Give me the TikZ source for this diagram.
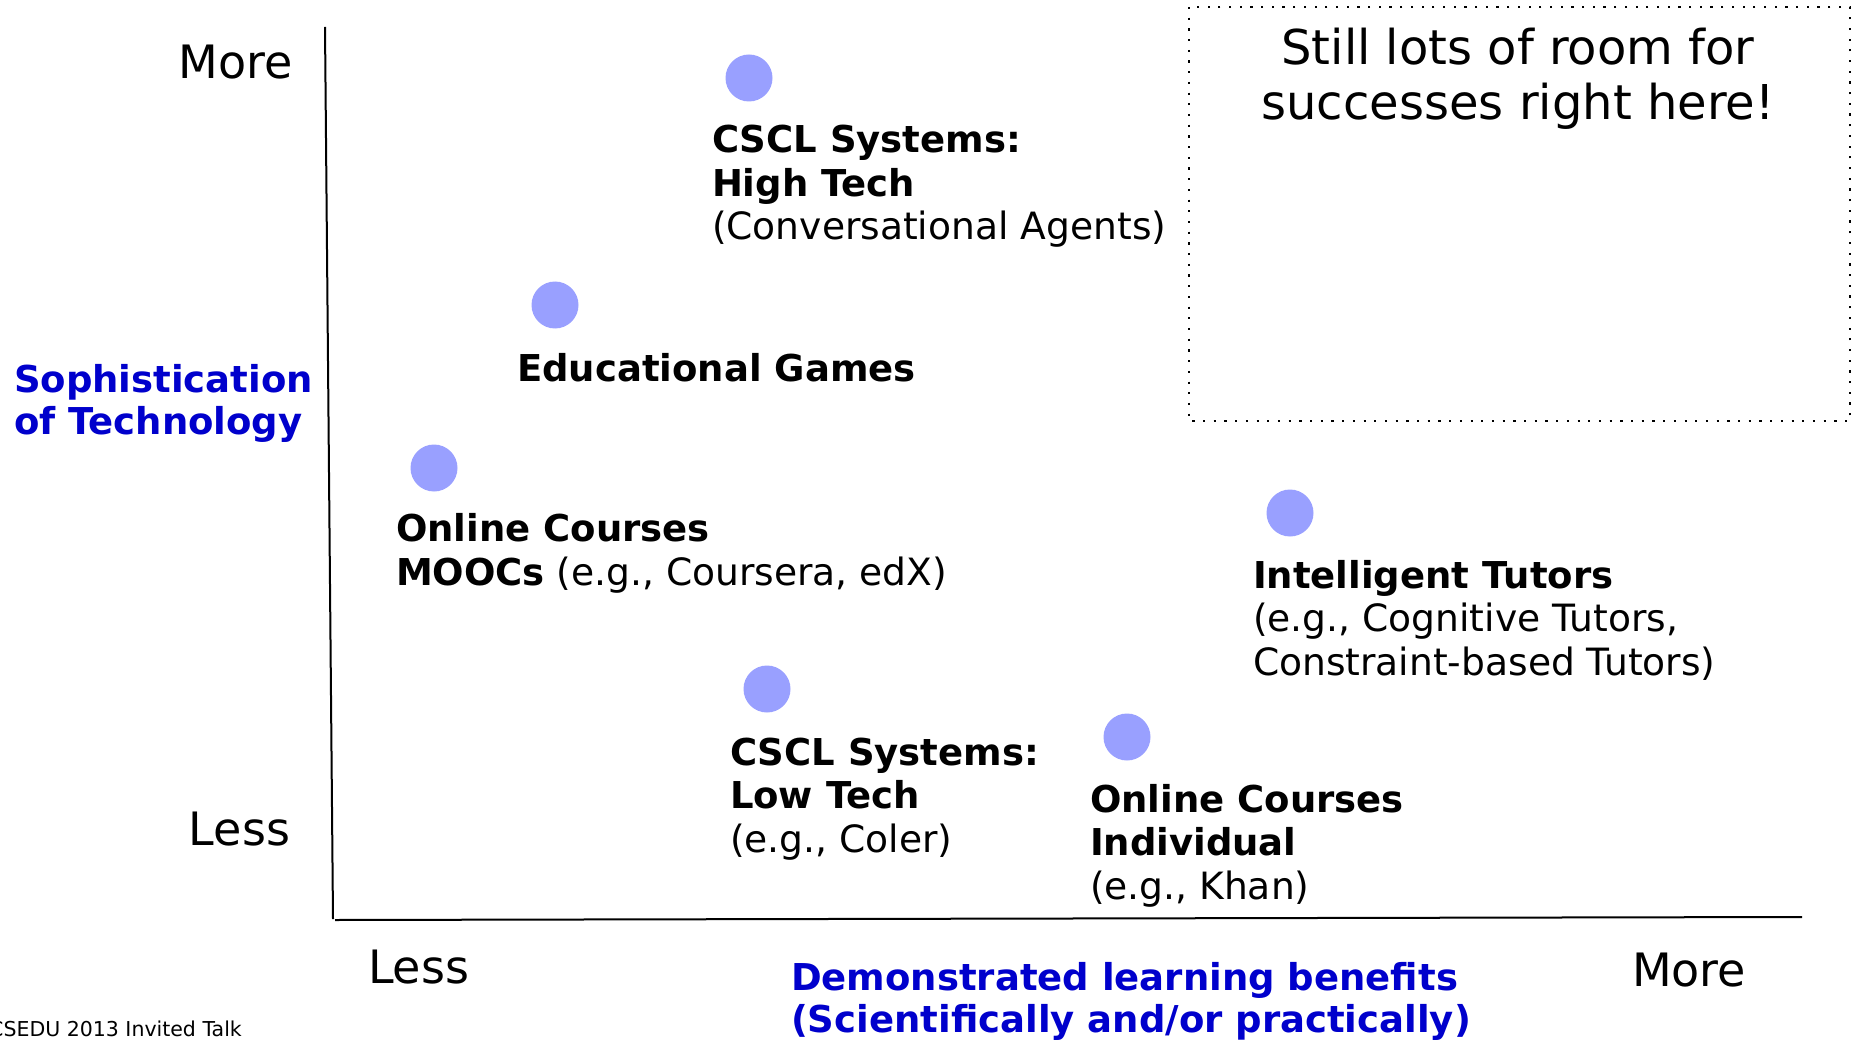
\documentclass[tikz,border=0pt]{standalone}
\usepackage{fontspec}
\setmainfont{DejaVu Sans}
\definecolor{dotblue}{RGB}{153,160,255}
\definecolor{axisblue}{RGB}{0,0,204}
% plain (non-bold) part of a label, set a touch wider
\newcommand{\plainpart}[1]{{\fontsize{37.6}{43.5}\selectfont #1}}
\begin{document}
\begin{tikzpicture}[x=1pt,y=-1pt,
  txt/.style={inner sep=0pt,outer sep=0pt,align=left,anchor=base west,
    font=\fontsize{37}{43.5}\selectfont},
  axisword/.style={inner sep=0pt,outer sep=0pt,font=\fontsize{46}{55}\selectfont},
  axistitle/.style={inner sep=0pt,outer sep=0pt,align=left,anchor=base west,
    text=axisblue,font=\fontsize{37}{41.5}\selectfont\bfseries},
  blob/.style={circle,fill=dotblue,draw=none,minimum size=47pt,inner sep=0pt},
  axisline/.style={line width=2pt,black}]
\useasboundingbox (0,0) rectangle (1851,1040);

% axes
\coordinate (ytop) at (325,27);
\coordinate (ybot) at (333,919);
\coordinate (xleft) at (335,920);
\coordinate (xright) at (1802,917);
\draw[axisline] (ytop) -- (ybot);
\draw[axisline] (xleft) -- (xright);

% axis words
\node[axisword,anchor=base east] (ymore) at (293,79) {More};
\node[axisword,anchor=base east] (yless) at (290,845) {Less};
\node[axisword,anchor=base west] (xless) at (368,983) {Less};
\node[axisword,anchor=base west] (xmore) at (1632,986) {More};

% axis titles (multi-line nodes are placed by the baseline of their last line)
\node[axistitle] (ytitle) at (14,434) {Sophistication\\of Technology};
\node[axistitle] (xtitle) at (791,1032) {Demonstrated learning benefits\\(Scientifically and/or practically)};

% open region
\draw[line width=2.2pt,dash pattern=on 2.2pt off 8.5pt] (1189,7) rectangle (1850,421);
\node[inner sep=0pt,align=center,anchor=base,font=\fontsize{48}{55}\selectfont] (room) at (1518,120)
  {Still lots of room for\\successes right here!};

% systems
\node[blob] (d1) at (749,78) {};
\node[txt] (hightech) at (712,240) {\textbf{CSCL Systems:}\\\textbf{High Tech}\\\plainpart{(Conversational Agents)}};

\node[blob] (d2) at (555,305) {};
\node[txt] (games) at (517,381) {\textbf{Educational Games}};

\node[blob] (d3) at (434,468) {};
\node[txt] (moocs) at (396,585) {\textbf{Online Courses}\\\textbf{MOOCs} \plainpart{(e.g., Coursera, edX)}};

\node[blob] (d4) at (1290,513) {};
\node[txt] (tutors) at (1253,675) {\textbf{Intelligent Tutors}\\\plainpart{(e.g., Cognitive Tutors,}\\\plainpart{Constraint-based Tutors)}};

\node[blob] (d5) at (767,689) {};
\node[txt] (lowtech) at (730,852) {\textbf{CSCL Systems:}\\\textbf{Low Tech}\\\plainpart{(e.g., Coler)}};

\node[blob] (d6) at (1127,737) {};
\node[txt] (individual) at (1090,899) {\textbf{Online Courses}\\\textbf{Individual}\\\plainpart{(e.g., Khan)}};

% footer
\node[inner sep=0pt,anchor=base east,font=\fontsize{20.5}{24}\selectfont] (footer) at (242,1036)
  {CSEDU 2013 Invited Talk};
\end{tikzpicture}
\end{document}
